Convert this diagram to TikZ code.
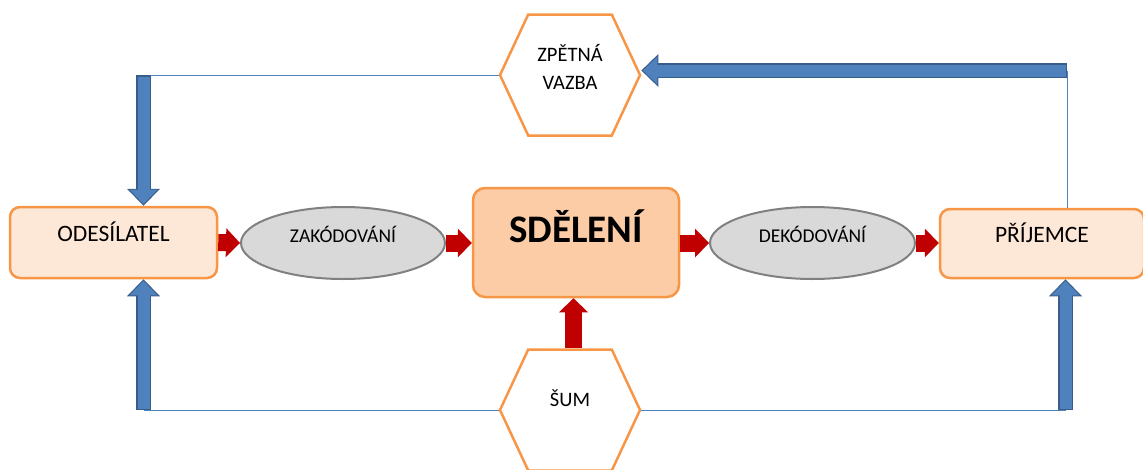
\documentclass[tikz,border=0pt]{standalone}
\usepackage{fontspec}
\setmainfont{Carlito}
\usetikzlibrary{arrows.meta,shapes.geometric,shapes.symbols}
\definecolor{boxorange}{RGB}{247,150,70}
\definecolor{boxlight}{RGB}{253,231,214}
\definecolor{boxpeach}{RGB}{251,204,166}
\definecolor{ovalgray}{RGB}{217,217,217}
\definecolor{ovaledge}{RGB}{128,128,128}
\definecolor{bluefill}{RGB}{79,129,189}
\definecolor{blueedge}{RGB}{56,93,138}
\definecolor{darkred}{RGB}{192,0,0}
\begin{document}
\begin{tikzpicture}[
				x=1pt, y=-1pt,
				lightbox/.style={draw=boxorange, fill=boxlight, line width=2.5pt, rounded corners=10pt, font=\fontsize{23.5}{28}\selectfont, text height=16pt, text depth=18pt},
				mainbox/.style={draw=boxorange, fill=boxpeach, line width=2.5pt, rounded corners=12pt, font=\fontsize{39}{44}\selectfont\bfseries, text height=28pt, text depth=29pt},
				oval/.style={ellipse, draw=ovaledge, fill=ovalgray, line width=2pt, inner sep=0pt, minimum width=204pt, minimum height=72pt, font=\fontsize{19.5}{23}\selectfont, text height=13pt, text depth=14pt},
				hexa/.style={signal, signal to=east and west, signal pointer angle=130, draw=boxorange, fill=white, line width=2.5pt, minimum width=140pt, minimum height=121pt, inner sep=0pt, font=\fontsize{20.5}{28}\selectfont, align=center},
				thinline/.style={draw=bluefill, line width=1pt},
				redarrow/.style={draw=darkred, line width=17pt, -{Triangle[width=29pt,length=14pt,line width=0pt]}},
				bluearrow/.style={draw=blueedge, line width=15pt, -{Triangle[width=33pt,length=17pt,line width=0pt]},
					postaction={draw=bluefill, line width=12pt, shorten >=1.6pt, shorten <=1.5pt, -{Triangle[width=28pt,length=14.5pt,line width=0pt]}}}
				]
				\useasboundingbox (0,0) rectangle (1143,469);
				% corners of the feedback loop
				\coordinate (tl) at (143.5,75);
				\coordinate (tr) at (1067,70.5);
				\coordinate (bl) at (143.5,410);
				\coordinate (br) at (1065.5,410);
				
				\node[lightbox, minimum width=207pt, minimum height=71pt] (odes) at (113.5,242.5) {ODESÍLATEL};
				\node[oval] (zak) at (343,243) {ZAKÓDOVÁNÍ};
				\node[mainbox, minimum width=206pt, minimum height=109pt] (sdel) at (576,242.5) {SDĚLENÍ};
				\node[oval, minimum width=205pt] (dek) at (812.5,243) {DEKÓDOVÁNÍ};
				\node[lightbox, minimum width=204pt, minimum height=69pt] (prij) at (1042,243.5) {PŘÍJEMCE};
				\node[hexa, text depth=16pt] (zp) at (570,75) {ZPĚTNÁ\\VAZBA};
				\node[hexa, text height=14pt, text depth=22pt] (sum) at (570,410) {ŠUM};
				
				% thin lines
				\draw[thinline] (tl) -- (zp.west);
				\draw[thinline] (tr) -- (tr |- prij.north);
				\draw[thinline] (bl) -- (sum.west);
				\draw[thinline] (sum.east) -- (br);
				
				% message flow
				\draw[redarrow] (odes.east) -- (zak.west);
				\draw[redarrow] (zak.east) -- (zak.east -| sdel.west);
				\draw[redarrow] (sdel.east |- dek.west) -- (dek.west);
				\draw[redarrow] (dek.east) -- (prij.west |- dek.east);
				\draw[redarrow] ([xshift=-2.5pt]sdel.south |- sum.north) -- ([xshift=-2.5pt]sdel.south);
				
				% feedback
				\draw[bluearrow] (tr) -- (tr -| zp.east);
				\draw[bluearrow] (tl) -- (tl |- odes.north);
				\draw[bluearrow] (bl) -- (bl |- odes.south);
				\draw[bluearrow] (br) -- (br |- prij.south);
			\end{tikzpicture}
\end{document}
